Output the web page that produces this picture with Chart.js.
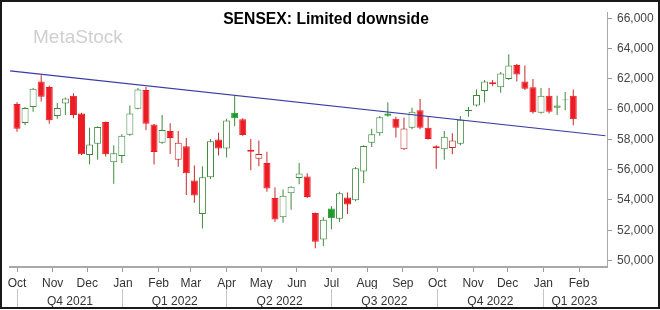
<!DOCTYPE html>
<html>
<head>
<meta charset="utf-8">
<script src="https://cdn.jsdelivr.net/npm/chart.js@4.4.1/dist/chart.umd.min.js"></script>
<style>html,body{margin:0;padding:0;background:#fff}canvas{display:block}</style>
</head>
<body>
<canvas id="c" width="660" height="310"></canvas>
<script>
// ---- data (weekly SENSEX candles, week ending Friday) ----
const weeks = [
 '2021-10-01','2021-10-08','2021-10-15','2021-10-22','2021-10-29','2021-11-05','2021-11-12','2021-11-19','2021-11-26',
 '2021-12-03','2021-12-10','2021-12-17','2021-12-24','2021-12-31',
 '2022-01-07','2022-01-14','2022-01-21','2022-01-28','2022-02-04','2022-02-11','2022-02-18','2022-02-25',
 '2022-03-04','2022-03-11','2022-03-18','2022-03-25','2022-04-01','2022-04-08','2022-04-15','2022-04-22','2022-04-29',
 '2022-05-06','2022-05-13','2022-05-20','2022-05-27','2022-06-03','2022-06-10','2022-06-17','2022-06-24',
 '2022-07-01','2022-07-08','2022-07-15','2022-07-22','2022-07-29','2022-08-05','2022-08-12','2022-08-19','2022-08-26',
 '2022-09-02','2022-09-09','2022-09-16','2022-09-23','2022-09-30','2022-10-07','2022-10-14','2022-10-21','2022-10-28',
 '2022-11-04','2022-11-11','2022-11-18','2022-11-25','2022-12-02','2022-12-09','2022-12-16','2022-12-23','2022-12-30',
 '2023-01-06','2023-01-13','2023-01-20','2023-01-27'
];
const opens = [60346,59080,60137,61825,61465,59548,60371,60877,59713,56974,57714,59144,56487,56911,
 58302,60029,61256,58979,57778,58556,56658,57543,55285,53071,55500,57986,57398,59757,59333,57310,56721,
 56449,54128,52863,54444,55456,55551,53135,51390,53432,52756,54172,53983,55880,57778,58410,59713,59359,
 57354,58764,59928,58764,57543,57354,57436,57714,59865,60245,61193,61781,61446,61990,62920,61825,61446,59757,
 60877,60092,60580,60877];
const highs = [60453,60137,61402,62243,61547,60409,60769,61041,59757,58764,58872,59188,57607,58346,
 60244,61402,61465,59017,59612,59062,58556,58094,56278,56234,58030,58448,59359,60877,59397,58030,57923,
 57183,54824,54697,54906,56449,55772,53179,52863,53603,54552,54489,56171,57607,58701,59548,60453,59504,
 59441,60092,60662,59504,57607,58556,58410,59548,60137,61294,61927,61927,62458,63616,62983,62875,61990,61402,
 61402,60877,61130,61294];
const lows = [58511,58935,59820,60497,59042,59359,59612,59397,56974,56342,56658,56867,55077,56449,
 58239,59991,58600,56342,57714,57037,56196,54337,53812,52123,55393,56930,56803,58872,58239,55962,56234,
 54552,52547,52502,53350,55033,54128,50820,50966,52060,52547,53071,53920,55121,57499,58239,59504,58132,
 57300,58663,58663,57986,56070,56658,57018,57607,59504,60181,60453,61510,61086,61927,61825,61257,59713,59713,
 59713,59612,59928,58941];
const closes = [58701,60073,61338,60813,59270,60073,60706,59612,57018,57670,58827,57018,57082,58239,
 59713,61294,59042,57164,58619,58094,57778,55772,54299,55500,57878,57398,59251,59397,58283,57183,57037,
 54760,52718,54274,54868,55754,54191,51238,52692,52800,54444,53704,56089,57562,58346,59460,59568,58764,
 58714,59820,58764,58030,57436,58176,57923,59296,59966,60940,61826,61655,62351,62876,62287,61339,59789,60877,
 59820,60245,60643,59333];

const monthTicks = ['2021-10-01','2021-11-01','2021-12-01','2022-01-01','2022-02-01','2022-03-01','2022-04-01',
 '2022-05-01','2022-06-01','2022-07-01','2022-08-01','2022-09-01','2022-10-01','2022-11-01','2022-12-01',
 '2023-01-01','2023-02-01'];
const monthLabels = ['Oct','Nov','Dec','Jan','Feb','Mar','Apr','May','Jun','Jul','Aug','Sep','Oct','Nov','Dec','Jan','Feb'];
const quarterStarts = ['2021-10-01','2022-01-01','2022-04-01','2022-07-01','2022-10-01','2023-01-01'];
const quarterCenters = ['2021-11-16','2022-02-15','2022-05-17','2022-08-16','2022-11-16','2023-01-28'];
const quarterLabels = ['Q4 2021','Q1 2022','Q2 2022','Q3 2022','Q4 2022','Q1 2023'];
const yTicks = [50000,52000,54000,56000,58000,60000,62000,64000,66000];
const trendDates = ['2021-09-25','2023-02-24'];
const trendValues = [62523,58241];
const titleText = 'SENSEX: Limited downside';
const watermarkText = 'MetaStock';

// ---- helpers ----
const ORIGIN = Date.parse('2021-10-01');
const day = d => (Date.parse(d) - ORIGIN) / 86400000;
const FONT = '"Liberation Sans", Arial, sans-serif';

const RED_FILL = '#ec1c24', RED_LINE = '#c42a2a';
const GREEN_FILL = '#1f9a2a', GREEN_LINE = '#3f8a3f';

const up = closes.map((c, i) => c >= (i ? closes[i - 1] : opens[i]));
const hollow = closes.map((c, i) => c > opens[i]);

const bodyData = weeks.map((w, i) => ({ x: day(w), y: [opens[i], closes[i]] }));
const wickData = weeks.map((w, i) => ({ x: day(w), y: [lows[i], highs[i]] }));
const bodyBg = weeks.map((w, i) => hollow[i] ? '#ffffff' : (up[i] ? GREEN_FILL : RED_FILL));
const bodyBorder = weeks.map((w, i) => hollow[i] ? (up[i] ? GREEN_LINE : RED_LINE) : (up[i] ? GREEN_FILL : RED_FILL));
const wickColor = weeks.map((w, i) => up[i] ? GREEN_LINE : RED_LINE);

const nQ = quarterStarts.length;

const overlay = {
  id: 'overlay',
  beforeDatasetsDraw(chart) {
    const ctx = chart.ctx;
    ctx.save();
    ctx.font = '19px ' + FONT;
    ctx.fillStyle = '#cfcfcf';
    ctx.textAlign = 'left';
    ctx.textBaseline = 'alphabetic';
    ctx.fillText(watermarkText, 33, 43);
    ctx.font = 'bold 15.7px ' + FONT;
    ctx.fillStyle = '#000';
    ctx.textAlign = 'center';
    ctx.fillText(titleText, 326, 24);
    ctx.restore();
  },
  afterDraw(chart) {
    const ctx = chart.ctx;
    ctx.save();
    ctx.strokeStyle = '#1a1a1a';
    ctx.lineWidth = 2;
    ctx.strokeRect(1, 1, 658, 307);
    ctx.restore();
  }
};

new Chart(document.getElementById('c'), {
  type: 'bar',
  data: {
    datasets: [
      {
        type: 'line',
        data: trendDates.map((d, i) => ({ x: day(d), y: trendValues[i] })),
        borderColor: '#3b3ba6',
        borderWidth: 1.2,
        pointRadius: 0,
        fill: false,
        xAxisID: 'x', yAxisID: 'y',
        order: 0
      },
      {
        data: bodyData,
        backgroundColor: bodyBg,
        borderColor: bodyBorder,
        borderWidth: 1,
        borderSkipped: false,
        inflateAmount: 0,
        barThickness: 7,
        grouped: false,
        xAxisID: 'x', yAxisID: 'y',
        order: 1
      },
      {
        data: wickData,
        backgroundColor: wickColor,
        borderWidth: 0,
        inflateAmount: 0,
        barThickness: 1,
        grouped: false,
        xAxisID: 'x', yAxisID: 'y',
        order: 2
      }
    ]
  },
  options: {
    responsive: false,
    animation: false,
    devicePixelRatio: 1,
    layout: { padding: { left: 10, top: 1, right: 0, bottom: 3 } },
    plugins: { legend: { display: false }, tooltip: { enabled: false }, title: { display: false } },
    scales: {
      x: {
        type: 'linear', position: 'bottom', min: -6.08, max: 512.3, offset: false,
        afterBuildTicks: a => { a.ticks = monthTicks.map(d => ({ value: day(d) })); },
        afterFit: a => { a.height = 22; },
        grid: { drawOnChartArea: false, offset: false, tickLength: 5, tickColor: '#9a9a9a', tickWidth: 1 },
        border: { display: true, color: '#a8a8a8', width: 2 },
        ticks: { autoSkip: false, maxRotation: 0, minRotation: 0, padding: 4, color: '#333',
                 font: { family: FONT, size: 12 }, callback: (v, i) => monthLabels[i] }
      },
      q: {
        type: 'linear', position: 'bottom', axis: 'x', weight: 1, min: -6.08, max: 512.3, offset: false,
        afterBuildTicks: a => {
          a.ticks = quarterStarts.map(d => ({ value: day(d) })).concat(quarterCenters.map(d => ({ value: day(d) })));
        },
        afterFit: a => { a.height = 18; },
        grid: { drawOnChartArea: false, offset: false, tickLength: 18,
                tickColor: ctx => ctx.index < nQ ? '#c4c4c4' : 'rgba(0,0,0,0)', tickWidth: 1 },
        border: { display: false },
        ticks: { autoSkip: false, maxRotation: 0, minRotation: 0, padding: -13, color: '#333',
                 font: { family: FONT, size: 12 },
                 callback: (v, i) => i < nQ ? '' : quarterLabels[i - nQ] }
      },
      y: {
        type: 'linear', position: 'right', min: 49575, max: 66400,
        afterBuildTicks: a => { a.ticks = yTicks.map(v => ({ value: v })); },
        afterFit: a => { a.width = 53; },
        grid: { drawOnChartArea: false, tickLength: 5, tickColor: '#9a9a9a' },
        border: { display: true, color: '#a8a8a8', width: 1 },
        ticks: { padding: 5, color: '#444', font: { family: FONT, size: 12 },
                 callback: v => v.toLocaleString('en-US') }
      }
    }
  },
  plugins: [overlay]
});
</script>
</body>
</html>
